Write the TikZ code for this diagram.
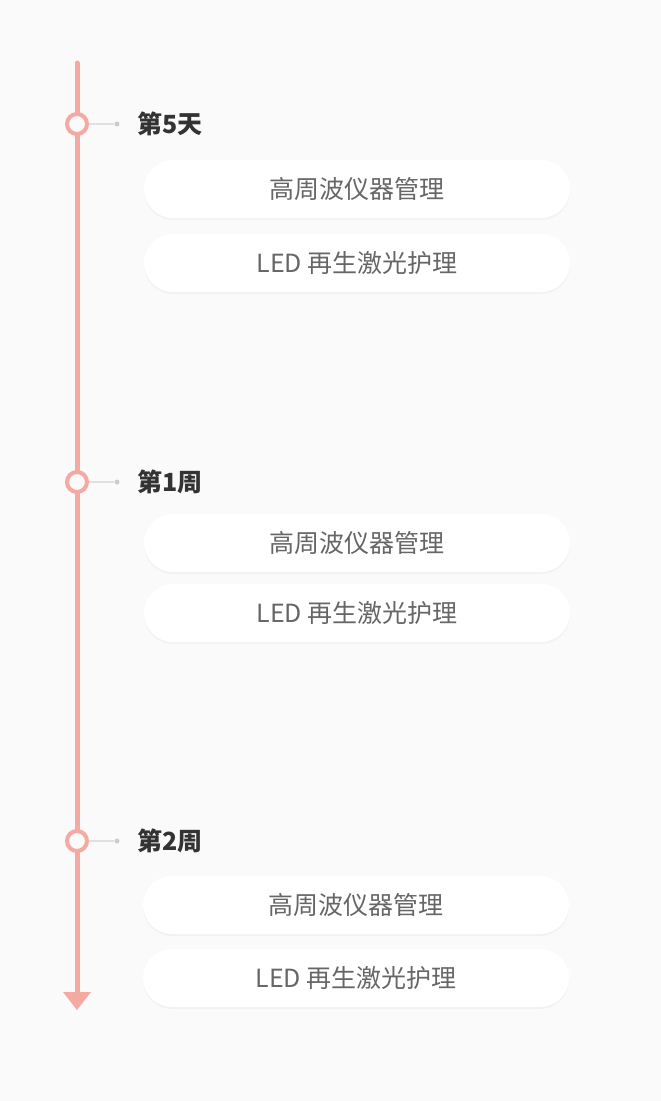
\documentclass[tikz,border=0pt]{standalone}
\usepackage{fontspec}
\setmainfont{Noto Sans CJK SC}
\usetikzlibrary{shadows}
\definecolor{pinkc}{HTML}{F4A9A2}
\definecolor{bgc}{HTML}{FAFAFA}
\definecolor{txtc}{HTML}{666666}
\definecolor{ttlc}{HTML}{333333}
\tikzset{
  card/.style={fill=white, rounded corners=29pt, minimum width=426pt, minimum height=58pt, inner sep=0pt,
    font=\fontsize{25}{30}\selectfont, text=txtc, drop shadow={shadow xshift=0pt, shadow yshift=-2pt, opacity=0.06}},
  ttl/.style={font=\fontsize{25}{30}\selectfont\bfseries, text=ttlc, anchor=west, inner sep=0pt},
  ring/.style={circle, draw=pinkc, line width=4pt, fill=bgc, minimum size=20pt, inner sep=0pt},
  dot/.style={circle, fill=black!20, minimum size=5pt, inner sep=0pt},
  tick/.style={draw=black!12, line width=1.5pt}
}
\begin{document}
\begin{tikzpicture}[x=1pt,y=-1pt]
\fill[bgc] (0,0) rectangle (661,1101);
\useasboundingbox (0,0) rectangle (661,1101);
\coordinate (top) at (77,63);
\coordinate (bot) at (77,993);
\draw[pinkc, line width=5pt, line cap=round] (top) -- (bot);
\fill[pinkc] (63,992) -- (91,992) -- (77,1010) -- cycle;
\foreach \y/\t/\ya/\yb/\xc/\n in {124/第5天/189/263/357/a, 482/第1周/543/613/357/b, 841/第2周/905/978/356/c}{
  \node[ring] (r\n) at (77,\y) {};
  \node[dot] (d\n) at (117,\y) {};
  \draw[tick] (r\n) -- (d\n);
  \node[ttl] (t\n) at (137,\y) {\t};
  \node[card] (p\n) at (\xc,\ya) {高周波仪器管理};
  \node[card] (q\n) at (\xc,\yb) {LED 再生激光护理};
}
\end{tikzpicture}
\end{document}
